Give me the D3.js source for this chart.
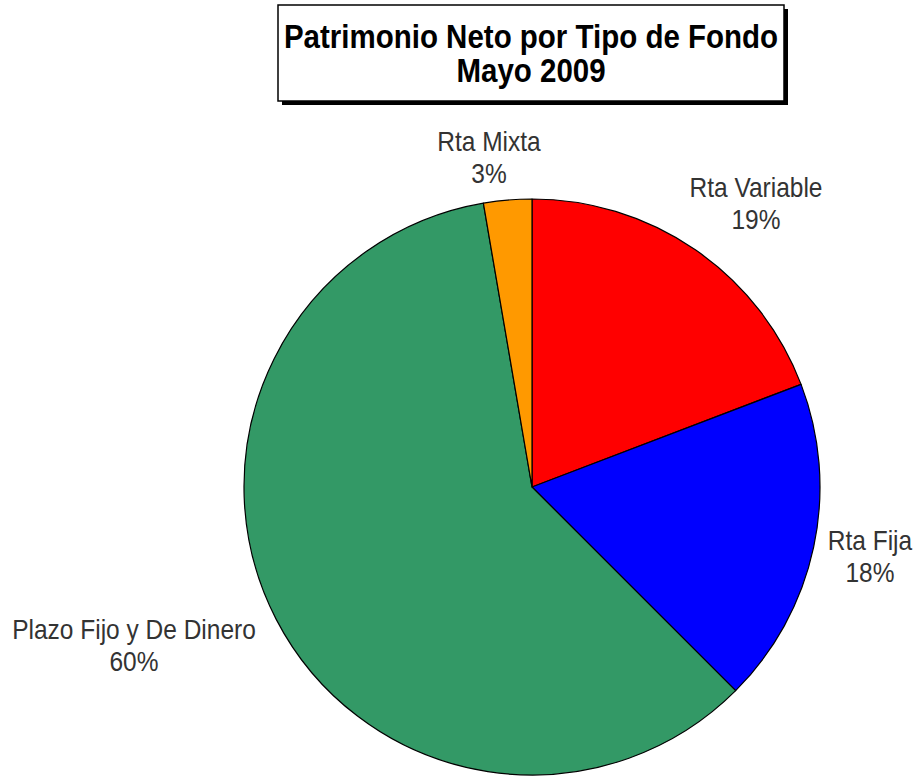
<!DOCTYPE html>
<html>
<head>
<meta charset="utf-8">
<script src="https://cdn.jsdelivr.net/npm/d3@7"></script>
<style>
  body { margin: 0; background: #fff; }
  svg text { font-family: "Liberation Sans", Arial, sans-serif; }
</style>
</head>
<body>
<svg id="chart" width="921" height="776"></svg>
<script>
// chart data
var categories = ["Rta Variable", "Rta Fija", "Plazo Fijo y De Dinero", "Rta Mixta"];
var shares = [19.2, 18.3, 59.8, 2.7];
var colors = ["#ff0000", "#0000ff", "#339966", "#ff9900"];
var titleLines = ["Patrimonio Neto por Tipo de Fondo", "Mayo 2009"];
// label anchor (baseline of first line) per slice
var labelPos = [[756, 197], [870, 550], [134, 639], [489, 151]];

var svg = d3.select("#chart");
var cx = 532, cy = 487, r = 288;

// title box with drop shadow
var box = { x: 278, y: 5, w: 506, h: 96 };
svg.append("rect")
    .attr("x", box.x + 4).attr("y", box.y + 4)
    .attr("width", box.w).attr("height", box.h)
    .attr("fill", "#000");
svg.append("rect")
    .attr("x", box.x).attr("y", box.y)
    .attr("width", box.w).attr("height", box.h)
    .attr("fill", "#fff")
    .attr("stroke", "#000")
    .attr("stroke-width", 1.5);

svg.selectAll("text.title")
    .data(titleLines)
    .enter().append("text")
    .attr("class", "title")
    .attr("transform", function (d, i) {
        return "translate(" + (box.x + box.w / 2) + "," + (48 + i * 34) + ") scale(1,1.1)";
    })
    .attr("text-anchor", "middle")
    .attr("font-weight", "bold")
    .attr("font-size", 29.5)
    .attr("fill", "#000")
    .text(function (d) { return d; });

var data = categories.map(function (c, i) {
    return { name: c, value: shares[i], color: colors[i] };
});

var pie = d3.pie().sort(null).value(function (d) { return d.value; });
var arc = d3.arc().innerRadius(0).outerRadius(r);

var g = svg.append("g").attr("transform", "translate(" + cx + "," + cy + ")");

g.selectAll("path")
    .data(pie(data))
    .enter().append("path")
    .attr("d", arc)
    .attr("fill", function (d) { return d.data.color; })
    .attr("stroke", "#000")
    .attr("stroke-width", 1.2)
    .attr("stroke-linejoin", "round");

// labels: name on first line, rounded percent below
var labels = svg.selectAll("g.label")
    .data(data)
    .enter().append("g")
    .attr("class", "label")
    .attr("transform", function (d, i) {
        return "translate(" + labelPos[i][0] + "," + labelPos[i][1] + ")";
    });

labels.append("text")
    .attr("text-anchor", "middle")
    .attr("transform", "scale(1,1.15)")
    .attr("font-size", 24.5)
    .attr("fill", "#333")
    .text(function (d) { return d.name; });

labels.append("text")
    .attr("text-anchor", "middle")
    .attr("transform", "translate(0,32) scale(1,1.15)")
    .attr("font-size", 24.5)
    .attr("fill", "#333")
    .text(function (d) { return Math.round(d.value) + "%"; });
</script>
</body>
</html>
